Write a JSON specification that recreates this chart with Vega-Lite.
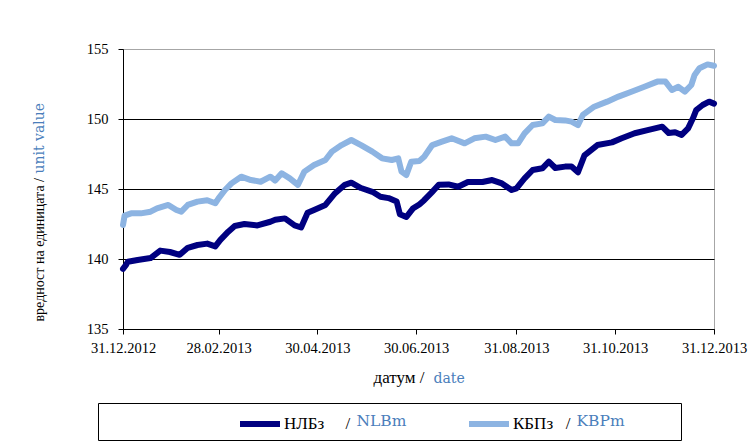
{
  "$schema": "https://vega.github.io/schema/vega-lite/v6.json",
  "width": 591,
  "height": 280,
  "autosize": {"type": "none"},
  "padding": {"left": 123, "top": 49, "right": 42, "bottom": 116},
  "background": "white",
  "data": {"values": [
    {"date": "2012-12-31", "fund": "НЛБз", "fund_en": "NLBm", "value": 139.3},
    {"date": "2013-01-02", "fund": "НЛБз", "fund_en": "NLBm", "value": 139.6},
    {"date": "2013-01-03", "fund": "НЛБз", "fund_en": "NLBm", "value": 139.8},
    {"date": "2013-01-09", "fund": "НЛБз", "fund_en": "NLBm", "value": 139.93},
    {"date": "2013-01-17", "fund": "НЛБз", "fund_en": "NLBm", "value": 140.07},
    {"date": "2013-01-23", "fund": "НЛБз", "fund_en": "NLBm", "value": 140.6},
    {"date": "2013-01-29", "fund": "НЛБз", "fund_en": "NLBm", "value": 140.5},
    {"date": "2013-02-04", "fund": "НЛБз", "fund_en": "NLBm", "value": 140.3},
    {"date": "2013-02-09", "fund": "НЛБз", "fund_en": "NLBm", "value": 140.8},
    {"date": "2013-02-15", "fund": "НЛБз", "fund_en": "NLBm", "value": 141.0},
    {"date": "2013-02-21", "fund": "НЛБз", "fund_en": "NLBm", "value": 141.1},
    {"date": "2013-02-26", "fund": "НЛБз", "fund_en": "NLBm", "value": 140.9},
    {"date": "2013-03-01", "fund": "НЛБз", "fund_en": "NLBm", "value": 141.35},
    {"date": "2013-03-06", "fund": "НЛБз", "fund_en": "NLBm", "value": 141.95},
    {"date": "2013-03-10", "fund": "НЛБз", "fund_en": "NLBm", "value": 142.36},
    {"date": "2013-03-16", "fund": "НЛБз", "fund_en": "NLBm", "value": 142.5},
    {"date": "2013-03-24", "fund": "НЛБз", "fund_en": "NLBm", "value": 142.4},
    {"date": "2013-04-01", "fund": "НЛБз", "fund_en": "NLBm", "value": 142.66},
    {"date": "2013-04-04", "fund": "НЛБз", "fund_en": "NLBm", "value": 142.8},
    {"date": "2013-04-10", "fund": "НЛБз", "fund_en": "NLBm", "value": 142.9},
    {"date": "2013-04-16", "fund": "НЛБз", "fund_en": "NLBm", "value": 142.4},
    {"date": "2013-04-20", "fund": "НЛБз", "fund_en": "NLBm", "value": 142.25},
    {"date": "2013-04-24", "fund": "НЛБз", "fund_en": "NLBm", "value": 143.3},
    {"date": "2013-04-28", "fund": "НЛБз", "fund_en": "NLBm", "value": 143.5},
    {"date": "2013-05-05", "fund": "НЛБз", "fund_en": "NLBm", "value": 143.86},
    {"date": "2013-05-11", "fund": "НЛБз", "fund_en": "NLBm", "value": 144.7},
    {"date": "2013-05-17", "fund": "НЛБз", "fund_en": "NLBm", "value": 145.3},
    {"date": "2013-05-21", "fund": "НЛБз", "fund_en": "NLBm", "value": 145.45},
    {"date": "2013-05-27", "fund": "НЛБз", "fund_en": "NLBm", "value": 145.07},
    {"date": "2013-06-03", "fund": "НЛБз", "fund_en": "NLBm", "value": 144.8},
    {"date": "2013-06-08", "fund": "НЛБз", "fund_en": "NLBm", "value": 144.45},
    {"date": "2013-06-13", "fund": "НЛБз", "fund_en": "NLBm", "value": 144.35},
    {"date": "2013-06-18", "fund": "НЛБз", "fund_en": "NLBm", "value": 144.1},
    {"date": "2013-06-20", "fund": "НЛБз", "fund_en": "NLBm", "value": 143.2},
    {"date": "2013-06-24", "fund": "НЛБз", "fund_en": "NLBm", "value": 143.0},
    {"date": "2013-06-28", "fund": "НЛБз", "fund_en": "NLBm", "value": 143.6},
    {"date": "2013-07-02", "fund": "НЛБз", "fund_en": "NLBm", "value": 143.9},
    {"date": "2013-07-05", "fund": "НЛБз", "fund_en": "NLBm", "value": 144.2},
    {"date": "2013-07-10", "fund": "НЛБз", "fund_en": "NLBm", "value": 144.8},
    {"date": "2013-07-14", "fund": "НЛБз", "fund_en": "NLBm", "value": 145.3},
    {"date": "2013-07-20", "fund": "НЛБз", "fund_en": "NLBm", "value": 145.33},
    {"date": "2013-07-26", "fund": "НЛБз", "fund_en": "NLBm", "value": 145.16},
    {"date": "2013-08-01", "fund": "НЛБз", "fund_en": "NLBm", "value": 145.5},
    {"date": "2013-08-10", "fund": "НЛБз", "fund_en": "NLBm", "value": 145.5},
    {"date": "2013-08-16", "fund": "НЛБз", "fund_en": "NLBm", "value": 145.64},
    {"date": "2013-08-22", "fund": "НЛБз", "fund_en": "NLBm", "value": 145.4},
    {"date": "2013-08-28", "fund": "НЛБз", "fund_en": "NLBm", "value": 144.93},
    {"date": "2013-08-31", "fund": "НЛБз", "fund_en": "NLBm", "value": 145.05},
    {"date": "2013-09-05", "fund": "НЛБз", "fund_en": "NLBm", "value": 145.76},
    {"date": "2013-09-10", "fund": "НЛБз", "fund_en": "NLBm", "value": 146.36},
    {"date": "2013-09-16", "fund": "НЛБз", "fund_en": "NLBm", "value": 146.48},
    {"date": "2013-09-20", "fund": "НЛБз", "fund_en": "NLBm", "value": 146.95},
    {"date": "2013-09-24", "fund": "НЛБз", "fund_en": "NLBm", "value": 146.5},
    {"date": "2013-09-30", "fund": "НЛБз", "fund_en": "NLBm", "value": 146.6},
    {"date": "2013-10-04", "fund": "НЛБз", "fund_en": "NLBm", "value": 146.6},
    {"date": "2013-10-08", "fund": "НЛБз", "fund_en": "NLBm", "value": 146.2},
    {"date": "2013-10-12", "fund": "НЛБз", "fund_en": "NLBm", "value": 147.4},
    {"date": "2013-10-20", "fund": "НЛБз", "fund_en": "NLBm", "value": 148.14},
    {"date": "2013-10-29", "fund": "НЛБз", "fund_en": "NLBm", "value": 148.33},
    {"date": "2013-11-04", "fund": "НЛБз", "fund_en": "NLBm", "value": 148.62},
    {"date": "2013-11-12", "fund": "НЛБз", "fund_en": "NLBm", "value": 148.98},
    {"date": "2013-11-20", "fund": "НЛБз", "fund_en": "NLBm", "value": 149.2},
    {"date": "2013-11-29", "fund": "НЛБз", "fund_en": "NLBm", "value": 149.45},
    {"date": "2013-12-03", "fund": "НЛБз", "fund_en": "NLBm", "value": 149.0},
    {"date": "2013-12-07", "fund": "НЛБз", "fund_en": "NLBm", "value": 149.05},
    {"date": "2013-12-11", "fund": "НЛБз", "fund_en": "NLBm", "value": 148.86},
    {"date": "2013-12-15", "fund": "НЛБз", "fund_en": "NLBm", "value": 149.33},
    {"date": "2013-12-18", "fund": "НЛБз", "fund_en": "NLBm", "value": 150.05},
    {"date": "2013-12-20", "fund": "НЛБз", "fund_en": "NLBm", "value": 150.64},
    {"date": "2013-12-24", "fund": "НЛБз", "fund_en": "NLBm", "value": 151.0},
    {"date": "2013-12-28", "fund": "НЛБз", "fund_en": "NLBm", "value": 151.24},
    {"date": "2013-12-31", "fund": "НЛБз", "fund_en": "NLBm", "value": 151.1},
    {"date": "2012-12-31", "fund": "КБПз", "fund_en": "KBPm", "value": 142.43},
    {"date": "2013-01-01", "fund": "КБПз", "fund_en": "KBPm", "value": 143.1},
    {"date": "2013-01-05", "fund": "КБПз", "fund_en": "KBPm", "value": 143.26},
    {"date": "2013-01-11", "fund": "КБПз", "fund_en": "KBPm", "value": 143.26},
    {"date": "2013-01-17", "fund": "КБПз", "fund_en": "KBPm", "value": 143.38},
    {"date": "2013-01-21", "fund": "КБПз", "fund_en": "KBPm", "value": 143.62},
    {"date": "2013-01-28", "fund": "КБПз", "fund_en": "KBPm", "value": 143.86},
    {"date": "2013-02-02", "fund": "КБПз", "fund_en": "KBPm", "value": 143.5},
    {"date": "2013-02-05", "fund": "КБПз", "fund_en": "KBPm", "value": 143.38},
    {"date": "2013-02-09", "fund": "КБПз", "fund_en": "KBPm", "value": 143.86},
    {"date": "2013-02-15", "fund": "КБПз", "fund_en": "KBPm", "value": 144.1},
    {"date": "2013-02-21", "fund": "КБПз", "fund_en": "KBPm", "value": 144.2},
    {"date": "2013-02-26", "fund": "КБПз", "fund_en": "KBPm", "value": 143.98},
    {"date": "2013-02-28", "fund": "КБПз", "fund_en": "KBPm", "value": 144.33},
    {"date": "2013-03-04", "fund": "КБПз", "fund_en": "KBPm", "value": 144.93},
    {"date": "2013-03-08", "fund": "КБПз", "fund_en": "KBPm", "value": 145.4},
    {"date": "2013-03-14", "fund": "КБПз", "fund_en": "KBPm", "value": 145.88},
    {"date": "2013-03-20", "fund": "КБПз", "fund_en": "KBPm", "value": 145.64},
    {"date": "2013-03-26", "fund": "КБПз", "fund_en": "KBPm", "value": 145.52},
    {"date": "2013-04-01", "fund": "КБПз", "fund_en": "KBPm", "value": 145.88},
    {"date": "2013-04-04", "fund": "КБПз", "fund_en": "KBPm", "value": 145.6},
    {"date": "2013-04-08", "fund": "КБПз", "fund_en": "KBPm", "value": 146.12},
    {"date": "2013-04-13", "fund": "КБПз", "fund_en": "KBPm", "value": 145.76},
    {"date": "2013-04-18", "fund": "КБПз", "fund_en": "KBPm", "value": 145.29},
    {"date": "2013-04-22", "fund": "КБПз", "fund_en": "KBPm", "value": 146.24},
    {"date": "2013-04-28", "fund": "КБПз", "fund_en": "KBPm", "value": 146.71},
    {"date": "2013-05-05", "fund": "КБПз", "fund_en": "KBPm", "value": 147.07},
    {"date": "2013-05-09", "fund": "КБПз", "fund_en": "KBPm", "value": 147.67},
    {"date": "2013-05-15", "fund": "КБПз", "fund_en": "KBPm", "value": 148.14},
    {"date": "2013-05-21", "fund": "КБПз", "fund_en": "KBPm", "value": 148.5},
    {"date": "2013-05-27", "fund": "КБПз", "fund_en": "KBPm", "value": 148.14},
    {"date": "2013-06-03", "fund": "КБПз", "fund_en": "KBPm", "value": 147.67},
    {"date": "2013-06-09", "fund": "КБПз", "fund_en": "KBPm", "value": 147.19},
    {"date": "2013-06-15", "fund": "КБПз", "fund_en": "KBPm", "value": 147.07},
    {"date": "2013-06-19", "fund": "КБПз", "fund_en": "KBPm", "value": 147.19},
    {"date": "2013-06-21", "fund": "КБПз", "fund_en": "KBPm", "value": 146.24},
    {"date": "2013-06-24", "fund": "КБПз", "fund_en": "KBPm", "value": 146.0},
    {"date": "2013-06-27", "fund": "КБПз", "fund_en": "KBPm", "value": 146.95},
    {"date": "2013-07-02", "fund": "КБПз", "fund_en": "KBPm", "value": 147.0},
    {"date": "2013-07-05", "fund": "КБПз", "fund_en": "KBPm", "value": 147.3},
    {"date": "2013-07-10", "fund": "КБПз", "fund_en": "KBPm", "value": 148.14},
    {"date": "2013-07-16", "fund": "КБПз", "fund_en": "KBPm", "value": 148.38},
    {"date": "2013-07-22", "fund": "КБПз", "fund_en": "KBPm", "value": 148.62},
    {"date": "2013-07-30", "fund": "КБПз", "fund_en": "KBPm", "value": 148.26},
    {"date": "2013-08-05", "fund": "КБПз", "fund_en": "KBPm", "value": 148.62},
    {"date": "2013-08-12", "fund": "КБПз", "fund_en": "KBPm", "value": 148.74},
    {"date": "2013-08-18", "fund": "КБПз", "fund_en": "KBPm", "value": 148.5},
    {"date": "2013-08-24", "fund": "КБПз", "fund_en": "KBPm", "value": 148.74},
    {"date": "2013-08-28", "fund": "КБПз", "fund_en": "KBPm", "value": 148.26},
    {"date": "2013-09-01", "fund": "КБПз", "fund_en": "KBPm", "value": 148.26},
    {"date": "2013-09-05", "fund": "КБПз", "fund_en": "KBPm", "value": 148.98},
    {"date": "2013-09-10", "fund": "КБПз", "fund_en": "KBPm", "value": 149.57},
    {"date": "2013-09-16", "fund": "КБПз", "fund_en": "KBPm", "value": 149.69},
    {"date": "2013-09-20", "fund": "КБПз", "fund_en": "KBPm", "value": 150.17},
    {"date": "2013-09-24", "fund": "КБПз", "fund_en": "KBPm", "value": 149.93},
    {"date": "2013-09-30", "fund": "КБПз", "fund_en": "KBPm", "value": 149.9},
    {"date": "2013-10-04", "fund": "КБПз", "fund_en": "KBPm", "value": 149.81},
    {"date": "2013-10-08", "fund": "КБПз", "fund_en": "KBPm", "value": 149.57},
    {"date": "2013-10-11", "fund": "КБПз", "fund_en": "KBPm", "value": 150.29},
    {"date": "2013-10-18", "fund": "КБПз", "fund_en": "KBPm", "value": 150.88},
    {"date": "2013-10-26", "fund": "КБПз", "fund_en": "KBPm", "value": 151.24},
    {"date": "2013-11-02", "fund": "КБПз", "fund_en": "KBPm", "value": 151.6},
    {"date": "2013-11-10", "fund": "КБПз", "fund_en": "KBPm", "value": 151.95},
    {"date": "2013-11-18", "fund": "КБПз", "fund_en": "KBPm", "value": 152.3},
    {"date": "2013-11-26", "fund": "КБПз", "fund_en": "KBPm", "value": 152.67},
    {"date": "2013-12-01", "fund": "КБПз", "fund_en": "KBPm", "value": 152.67},
    {"date": "2013-12-05", "fund": "КБПз", "fund_en": "KBPm", "value": 152.07},
    {"date": "2013-12-09", "fund": "КБПз", "fund_en": "KBPm", "value": 152.3},
    {"date": "2013-12-13", "fund": "КБПз", "fund_en": "KBPm", "value": 151.95},
    {"date": "2013-12-17", "fund": "КБПз", "fund_en": "KBPm", "value": 152.43},
    {"date": "2013-12-19", "fund": "КБПз", "fund_en": "KBPm", "value": 153.14},
    {"date": "2013-12-22", "fund": "КБПз", "fund_en": "KBPm", "value": 153.62},
    {"date": "2013-12-27", "fund": "КБПз", "fund_en": "KBPm", "value": 153.9},
    {"date": "2013-12-31", "fund": "КБПз", "fund_en": "KBPm", "value": 153.8}
  ]},
  "layer": [
    {
      "mark": {"type": "line", "strokeWidth": 6, "strokeJoin": "round", "strokeCap": "round"},
      "encoding": {
        "x": {
          "field": "date", "type": "temporal",
          "scale": {"type": "utc", "domain": [{"year": 2012, "month": 12, "date": 31, "utc": true}, {"year": 2013, "month": 12, "date": 31, "utc": true}]},
          "axis": {
            "orient": "bottom",
            "values": [
              {"year": 2012, "month": 12, "date": 31, "utc": true},
              {"year": 2013, "month": 2, "date": 28, "utc": true},
              {"year": 2013, "month": 4, "date": 30, "utc": true},
              {"year": 2013, "month": 6, "date": 30, "utc": true},
              {"year": 2013, "month": 8, "date": 31, "utc": true},
              {"year": 2013, "month": 10, "date": 31, "utc": true},
              {"year": 2013, "month": 12, "date": 31, "utc": true}
            ],
            "format": "%d.%m.%Y",
            "grid": false,
            "tickSize": 5,
            "labelPadding": 7,
            "labelFlush": false,
            "labelOverlap": false,
            "title": "датум /",
            "titleFont": "Liberation Serif",
            "titleFontSize": 17,
            "titleColor": "black",
            "titleAlign": "right",
            "titleBaseline": "alphabetic",
            "titleX": 301,
            "titleY": 53
          }
        },
        "y": {
          "field": "value", "type": "quantitative",
          "scale": {"domain": [135, 155], "nice": false, "zero": false},
          "axis": {
            "orient": "left",
            "values": [135, 140, 145, 150, 155],
            "tickSize": 5,
            "labelPadding": 10,
            "grid": true,
            "gridColor": {"condition": {"test": "datum.value === 155", "value": "#a6a6a6"}, "value": "#000000"},
            "gridWidth": 1,
            "title": "вредност на единицата /",
            "titleFont": "Liberation Serif",
            "titleFontSize": 14,
            "titleColor": "black",
            "titleAngle": 270,
            "titleAlign": "left",
            "titleBaseline": "middle",
            "titleX": -84,
            "titleY": 272
          }
        },
        "color": {
          "field": "fund", "type": "nominal",
          "scale": {"domain": ["НЛБз", "КБПз"], "range": ["#000080", "#8db4e2"]},
          "legend": {
            "orient": "none",
            "legendX": 114,
            "legendY": 352,
            "direction": "horizontal",
            "title": null,
            "symbolType": "stroke",
            "symbolSize": 1600,
            "symbolStrokeWidth": 6,
            "labelFont": "Liberation Serif",
            "labelFontSize": 17,
            "labelColor": "black",
            "labelOffset": 1,
            "labelLimit": 400,
            "columnPadding": 106,
            "padding": 0,
            "labelExpr": "datum.label == 'КБПз' ? 'КБПз\u00a0\u00a0\u00a0/' : 'НЛБз\u00a0\u00a0\u00a0\u00a0\u00a0/'"
          }
        }
      }
    },
    {
      "mark": {"type": "line", "strokeWidth": 5, "opacity": 0},
      "encoding": {
        "x": {
          "field": "date", "type": "temporal",
          "scale": {"type": "utc", "domain": [{"year": 2012, "month": 12, "date": 31, "utc": true}, {"year": 2013, "month": 12, "date": 31, "utc": true}]},
          "axis": {
            "orient": "bottom",
            "labels": false, "ticks": false, "domain": false, "grid": false,
            "title": "date",
            "titleFont": "DejaVu Serif",
            "titleFontSize": 14,
            "titleColor": "#4a7ebb",
            "titleAlign": "left",
            "titleBaseline": "alphabetic",
            "titleX": 310,
            "titleY": 53
          }
        },
        "y": {
          "field": "value", "type": "quantitative",
          "scale": {"domain": [135, 155], "nice": false, "zero": false},
          "axis": {
            "orient": "left",
            "labels": false, "ticks": false, "domain": false, "grid": false,
            "title": "unit value",
            "titleFont": "DejaVu Serif",
            "titleFontSize": 14,
            "titleColor": "#4a7ebb",
            "titleAngle": 270,
            "titleAlign": "left",
            "titleBaseline": "middle",
            "titleX": -84,
            "titleY": 124
          }
        },
        "strokeDash": {
          "field": "fund_en", "type": "nominal",
          "scale": {"domain": ["NLBm", "KBPm"], "range": [[1, 0], [1, 0]]},
          "legend": {
            "orient": "none",
            "legendX": -25,
            "legendY": 354,
            "direction": "horizontal",
            "columns": 2,
            "values": ["NLBm", "KBPm"],
            "title": "\u00a0",
            "titleOrient": "left",
            "titleFont": "DejaVu Serif",
            "titleFontSize": 15.5,
            "titlePadding": 233,
            "symbolType": "stroke",
            "symbolSize": 1,
            "symbolOpacity": 0,
            "symbolStrokeWidth": 0,
            "labelOffset": 0,
            "labelFont": "DejaVu Serif",
            "labelFontSize": 15.5,
            "labelColor": "#4a7ebb",
            "labelLimit": 400,
            "columnPadding": 154,
            "padding": 10,
            "strokeColor": "black",
            "labelExpr": "datum.label == 'KBPm' ? 'KBPm\u00a0\u00a0\u00a0\u00a0\u00a0\u00a0\u00a0\u2800' : datum.label"
          }
        }
      }
    }
  ],
  "resolve": {"axis": {"x": "independent", "y": "independent"}},
  "config": {
    "font": "Liberation Serif",
    "view": {"stroke": "#a6a6a6", "strokeWidth": 1},
    "axis": {
      "labelFont": "Liberation Serif",
      "labelFontSize": 14.5,
      "labelColor": "black",
      "tickColor": "black",
      "domainColor": "black",
      "titleFontWeight": "normal"
    },
    "legend": {"titleFontWeight": "normal"}
  }
}
